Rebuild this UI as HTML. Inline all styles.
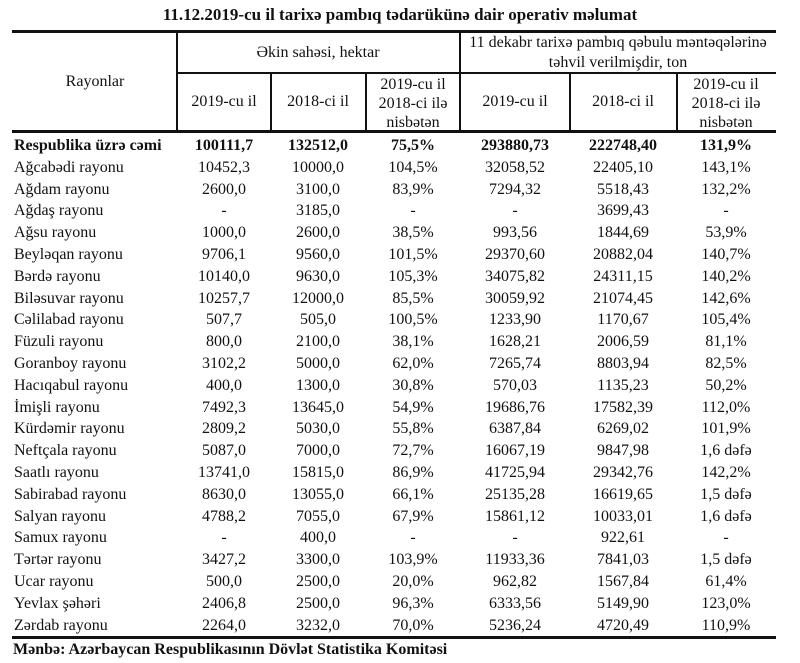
<!DOCTYPE html>
<html><head><meta charset="utf-8"><style>
body{margin:0;background:#fff;width:800px;height:663px;position:relative;overflow:hidden;font-family:"Liberation Serif",serif;color:#111}
.t{position:absolute;white-space:nowrap;font-size:16px;line-height:18px}
.c{transform:translateX(-50%);text-align:center}
.l{position:absolute;background:#111}
b{font-weight:bold}
</style></head><body>
<div class="t c" style="left:400px;top:6px;font-weight:bold;font-size:17px">11.12.2019-cu il tarixə pambıq tədarükünə dair operativ məlumat</div>
<div class="l" style="left:12px;top:30px;width:764px;height:3px"></div>
<div class="l" style="left:12px;top:130px;width:764px;height:3px"></div>
<div class="l" style="left:12px;top:636px;width:764px;height:3px"></div>
<div class="l" style="left:177px;top:72px;width:599px;height:2px"></div>
<div class="l" style="left:176px;top:31px;width:2px;height:100px"></div>
<div class="l" style="left:459px;top:31px;width:2px;height:100px"></div>
<div class="l" style="left:270px;top:73px;width:2px;height:58px"></div>
<div class="l" style="left:365px;top:73px;width:2px;height:58px"></div>
<div class="l" style="left:569px;top:73px;width:2px;height:58px"></div>
<div class="l" style="left:676px;top:73px;width:2px;height:58px"></div>
<div class="t c" style="left:95px;top:73px">Rayonlar</div>
<div class="t c" style="left:318px;top:44px">Əkin sahəsi, hektar</div>
<div class="t c" style="left:618px;top:33px;line-height:20px">11 dekabr tarixə pambıq qəbulu məntəqələrinə<br>təhvil verilmişdir, ton</div>
<div class="t c" style="left:224px;top:93px">2019-cu il</div>
<div class="t c" style="left:318px;top:93px">2018-ci il</div>
<div class="t c" style="left:413px;top:75px;line-height:19px">2019-cu il<br>2018-ci ilə<br>nisbətən</div>
<div class="t c" style="left:515px;top:93px">2019-cu il</div>
<div class="t c" style="left:623px;top:93px">2018-ci il</div>
<div class="t c" style="left:726px;top:75px;line-height:19px">2019-cu il<br>2018-ci ilə<br>nisbətən</div>
<div id="rows"></div>
<div class="t" style="left:13px;top:641px;font-weight:bold">Mənbə: Azərbaycan Respublikasının Dövlət Statistika Komitəsi</div>
<script>
var d=[["Respublika üzrə cəmi","100111,7","132512,0","75,5%","293880,73","222748,40","131,9%"],
["Ağcabədi rayonu","10452,3","10000,0","104,5%","32058,52","22405,10","143,1%"],
["Ağdam rayonu","2600,0","3100,0","83,9%","7294,32","5518,43","132,2%"],
["Ağdaş rayonu","-","3185,0","-","-","3699,43","-"],
["Ağsu rayonu","1000,0","2600,0","38,5%","993,56","1844,69","53,9%"],
["Beyləqan rayonu","9706,1","9560,0","101,5%","29370,60","20882,04","140,7%"],
["Bərdə rayonu","10140,0","9630,0","105,3%","34075,82","24311,15","140,2%"],
["Biləsuvar rayonu","10257,7","12000,0","85,5%","30059,92","21074,45","142,6%"],
["Cəlilabad rayonu","507,7","505,0","100,5%","1233,90","1170,67","105,4%"],
["Füzuli rayonu","800,0","2100,0","38,1%","1628,21","2006,59","81,1%"],
["Goranboy rayonu","3102,2","5000,0","62,0%","7265,74","8803,94","82,5%"],
["Hacıqabul rayonu","400,0","1300,0","30,8%","570,03","1135,23","50,2%"],
["İmişli rayonu","7492,3","13645,0","54,9%","19686,76","17582,39","112,0%"],
["Kürdəmir rayonu","2809,2","5030,0","55,8%","6387,84","6269,02","101,9%"],
["Neftçala rayonu","5087,0","7000,0","72,7%","16067,19","9847,98","1,6 dəfə"],
["Saatlı rayonu","13741,0","15815,0","86,9%","41725,94","29342,76","142,2%"],
["Sabirabad rayonu","8630,0","13055,0","66,1%","25135,28","16619,65","1,5 dəfə"],
["Salyan rayonu","4788,2","7055,0","67,9%","15861,12","10033,01","1,6 dəfə"],
["Samux rayonu","-","400,0","-","-","922,61","-"],
["Tərtər rayonu","3427,2","3300,0","103,9%","11933,36","7841,03","1,5 dəfə"],
["Ucar rayonu","500,0","2500,0","20,0%","962,82","1567,84","61,4%"],
["Yevlax şəhəri","2406,8","2500,0","96,3%","6333,56","5149,90","123,0%"],
["Zərdab rayonu","2264,0","3232,0","70,0%","5236,24","4720,49","110,9%"]];
var cx=[224,318,413,515,623,726],h="";
d.forEach(function(r,i){var y=137+i*21.8,bw=i==0?"font-weight:bold;":"";
h+='<div class="t" style="'+bw+'left:14px;top:'+y+'px">'+r[0]+'</div>';
for(var j=1;j<7;j++)h+='<div class="t c" style="'+bw+'left:'+cx[j-1]+'px;top:'+y+'px">'+r[j]+'</div>';});
document.getElementById("rows").innerHTML=h;
</script>
</body></html>
